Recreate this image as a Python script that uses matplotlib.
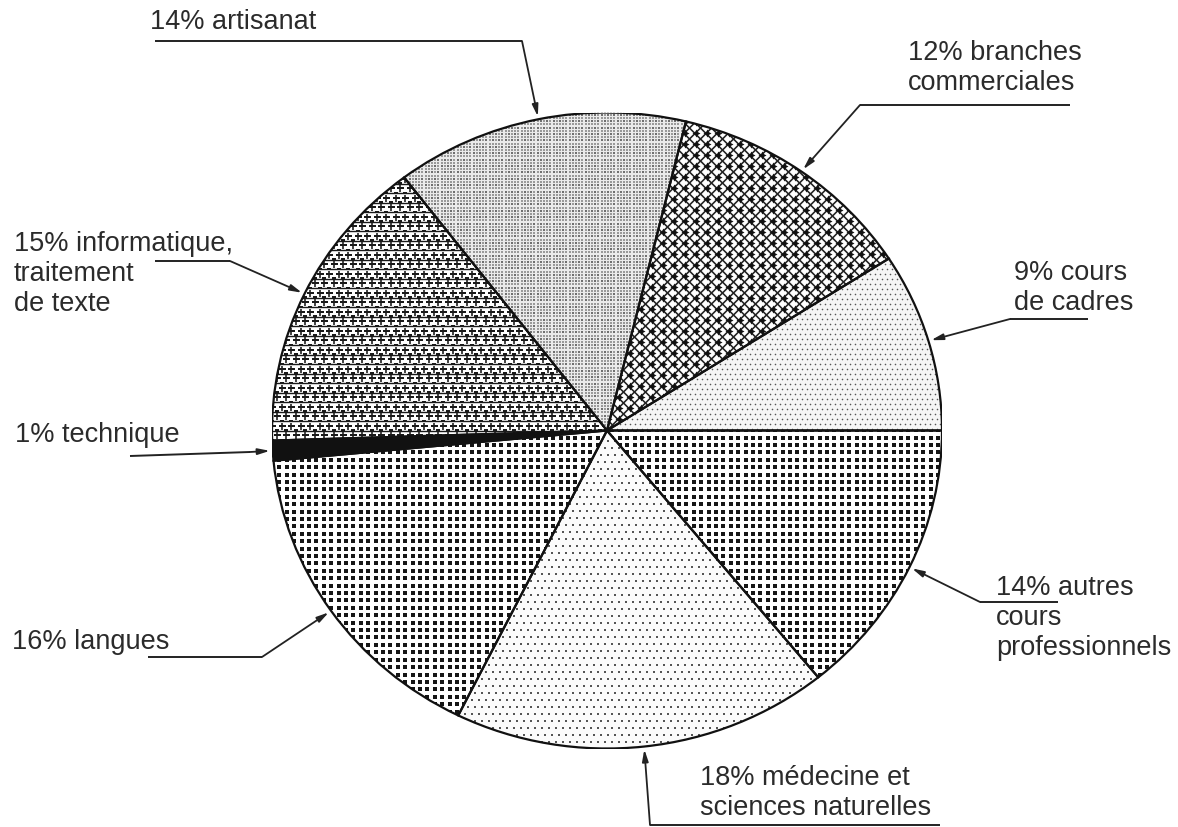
import numpy as np
import matplotlib
matplotlib.use("Agg")
import matplotlib.pyplot as plt
from matplotlib.collections import LineCollection
from matplotlib.patches import Wedge

# ---------------- data ----------------
labels = ["9% cours\nde cadres", "12% branches\ncommerciales", "14% artisanat",
          "15% informatique,\ntraitement\nde texte", "1% technique", "16% langues",
          "18% médecine et\nsciences naturelles", "14% autres\ncours\nprofessionnels"]
shares = [9, 12, 14, 15, 1, 16, 18, 14]

# ---------------- layout (pixels) ----------------
W, H = 1178, 828
CX, CY, RX, RY = 607, H - 431.5, 335, 318

plt.rcParams["font.family"] = ["Liberation Sans", "DejaVu Sans"]
fig = plt.figure(figsize=(W / 100, H / 100), dpi=100)
fig.patch.set_facecolor("white")

pax = fig.add_axes([(CX - RX) / W, (CY - RY) / H, 2 * RX / W, 2 * RY / H])
wedges, _ = pax.pie(shares, startangle=0, counterclock=True, radius=1,
                    colors=["white"] * len(shares),
                    wedgeprops=dict(edgecolor="none", linewidth=0))
pax.set_aspect("auto")
pax.set_xlim(-1, 1)
pax.set_ylim(-1, 1)
pax.axis("off")


def to_data(px, py):
    return (np.asarray(px) - CX) / RX, (np.asarray(py) - CY) / RY


def grid(sp, stagger=False, ox=0.0, oy=0.0):
    xs = np.arange(CX - RX - 2 * sp, CX + RX + 2 * sp, sp) + ox
    ys = np.arange(CY - RY - 2 * sp, CY + RY + 2 * sp, sp) + oy
    X, Y = np.meshgrid(xs, ys)
    if stagger:
        X[1::2] += sp / 2
    return to_data(X.ravel(), Y.ravel())


def pt(px):
    return px * 0.72


def dots(w, sp, d, color="black", marker="s", stagger=False, lw=0, ox=0, oy=0):
    x, y = grid(sp, stagger, ox, oy)
    sc = pax.scatter(x, y, s=pt(d) ** 2, marker=marker, c=color, linewidths=lw,
                     edgecolors=color, zorder=2)
    sc.set_clip_path(w)
    return sc


def lines(w, segs_px, lw, color="black"):
    segs = []
    for (x0, y0), (x1, y1) in segs_px:
        a = to_data([x0, x1], [y0, y1])
        segs.append(list(zip(a[0], a[1])))
    lc = LineCollection(segs, colors=color, linewidths=pt(lw), zorder=2)
    pax.add_collection(lc)
    lc.set_clip_path(w)


L = 2 * max(RX, RY) + 100

# 0: cours de cadres - fine light dots
wedges[0].set_facecolor("#f5f5f5")
dots(wedges[0], 5.0, 1.6, color="#555555", marker="o", stagger=True)

# 1: branches commerciales - diagonal cross-hatch with stars
a = 11.0
ks = np.arange(-120, 121)
diag1 = [((CX - L, CY - L + k * a), (CX + L, CY + L + k * a)) for k in ks]
diag2 = [((CX - L, CY + L + k * a), (CX + L, CY - L + k * a)) for k in ks]
lines(wedges[1], diag1 + diag2, 1.6, "#222222")
dots(wedges[1], a, 8.0, color="#111111", marker=(4, 1, 0), ox=a / 2)

# 2: artisanat - grainy light grey
wedges[2].set_facecolor("#ebebeb")
dots(wedges[2], 3.2, 1.1, color="#9a9a9a", marker="s")
dots(wedges[2], 6.4, 1.5, color="#707070", marker="s", stagger=True)

# 3: informatique - grid of + and -
sp3 = 9.5
hl = [((CX - L, CY + k * sp3), (CX + L, CY + k * sp3)) for k in np.arange(-60, 61)]
lines(wedges[3], hl, 1.4, "#1a1a1a")
dots(wedges[3], sp3, 7.0, color="#1a1a1a", marker="+", lw=pt(1.6), stagger=True)
dots(wedges[3], sp3, 4.0, color="#1a1a1a", marker="_", lw=pt(1.6),
     stagger=True, oy=sp3 / 2)

# 4: technique - solid black
wedges[4].set_facecolor("#111111")

# 5: langues - dense dark dots
dots(wedges[5], 7.4, 3.7, color="#151515", marker="s")

# 6: medecine - light dots
wedges[6].set_facecolor("#fbfbfb")
dots(wedges[6], 7.0, 2.0, color="#555555", marker="s", stagger=True)

# 7: autres cours professionnels - dense dark dots
dots(wedges[7], 7.4, 3.7, color="#151515", marker="s")

# outlines on top
for w in wedges:
    pax.add_patch(Wedge(w.center, w.r, w.theta1, w.theta2, fill=False,
                        edgecolor="#111111", linewidth=1.6, zorder=3))

# ---------------- labels and leaders ----------------
over = fig.add_axes([0, 0, 1, 1], facecolor="none")
over.set_xlim(0, W)
over.set_ylim(0, H)
over.axis("off")

# label text anchor (left x, block centre y in image coords),
# leader: horizontal segment start/end (image coords)
text_pos = [(1014, 288), (908, 68), (150, 22), (14, 274),
            (15, 435), (12, 642), (700, 793), (996, 618)]
leaders = [((1088, 320), (1010, 320)), ((1070, 106), (860, 106)),
           ((155, 42), (522, 42)), ((155, 262), (230, 262)),
           ((130, 457), (250, 453)), ((148, 658), (262, 658)),
           ((940, 826), (650, 826)), ((1058, 603), (980, 603))]

for w, lab, (tx, ty), (p0, p1) in zip(wedges, labels, text_pos, leaders):
    over.text(tx, H - ty, lab, ha="left", va="center", fontsize=19.5,
              color="#2b2b2b", linespacing=1.2)
    over.plot([p0[0], p1[0]], [H - p0[1], H - p1[1]], color="#222222", lw=1.4,
              solid_capstyle="butt")
    mid = np.deg2rad((w.theta1 + w.theta2) / 2)
    tip_x, tip_y = CX + RX * np.cos(mid), CY + RY * np.sin(mid)
    over.annotate("", xy=(tip_x, tip_y), xytext=(p1[0], H - p1[1]),
                  arrowprops=dict(arrowstyle="-|>,head_length=0.7,head_width=0.18",
                                  color="#222222", lw=1.3, shrinkA=0, shrinkB=2),
                  annotation_clip=False)

fig.savefig("out.png", dpi=100, facecolor="white")
